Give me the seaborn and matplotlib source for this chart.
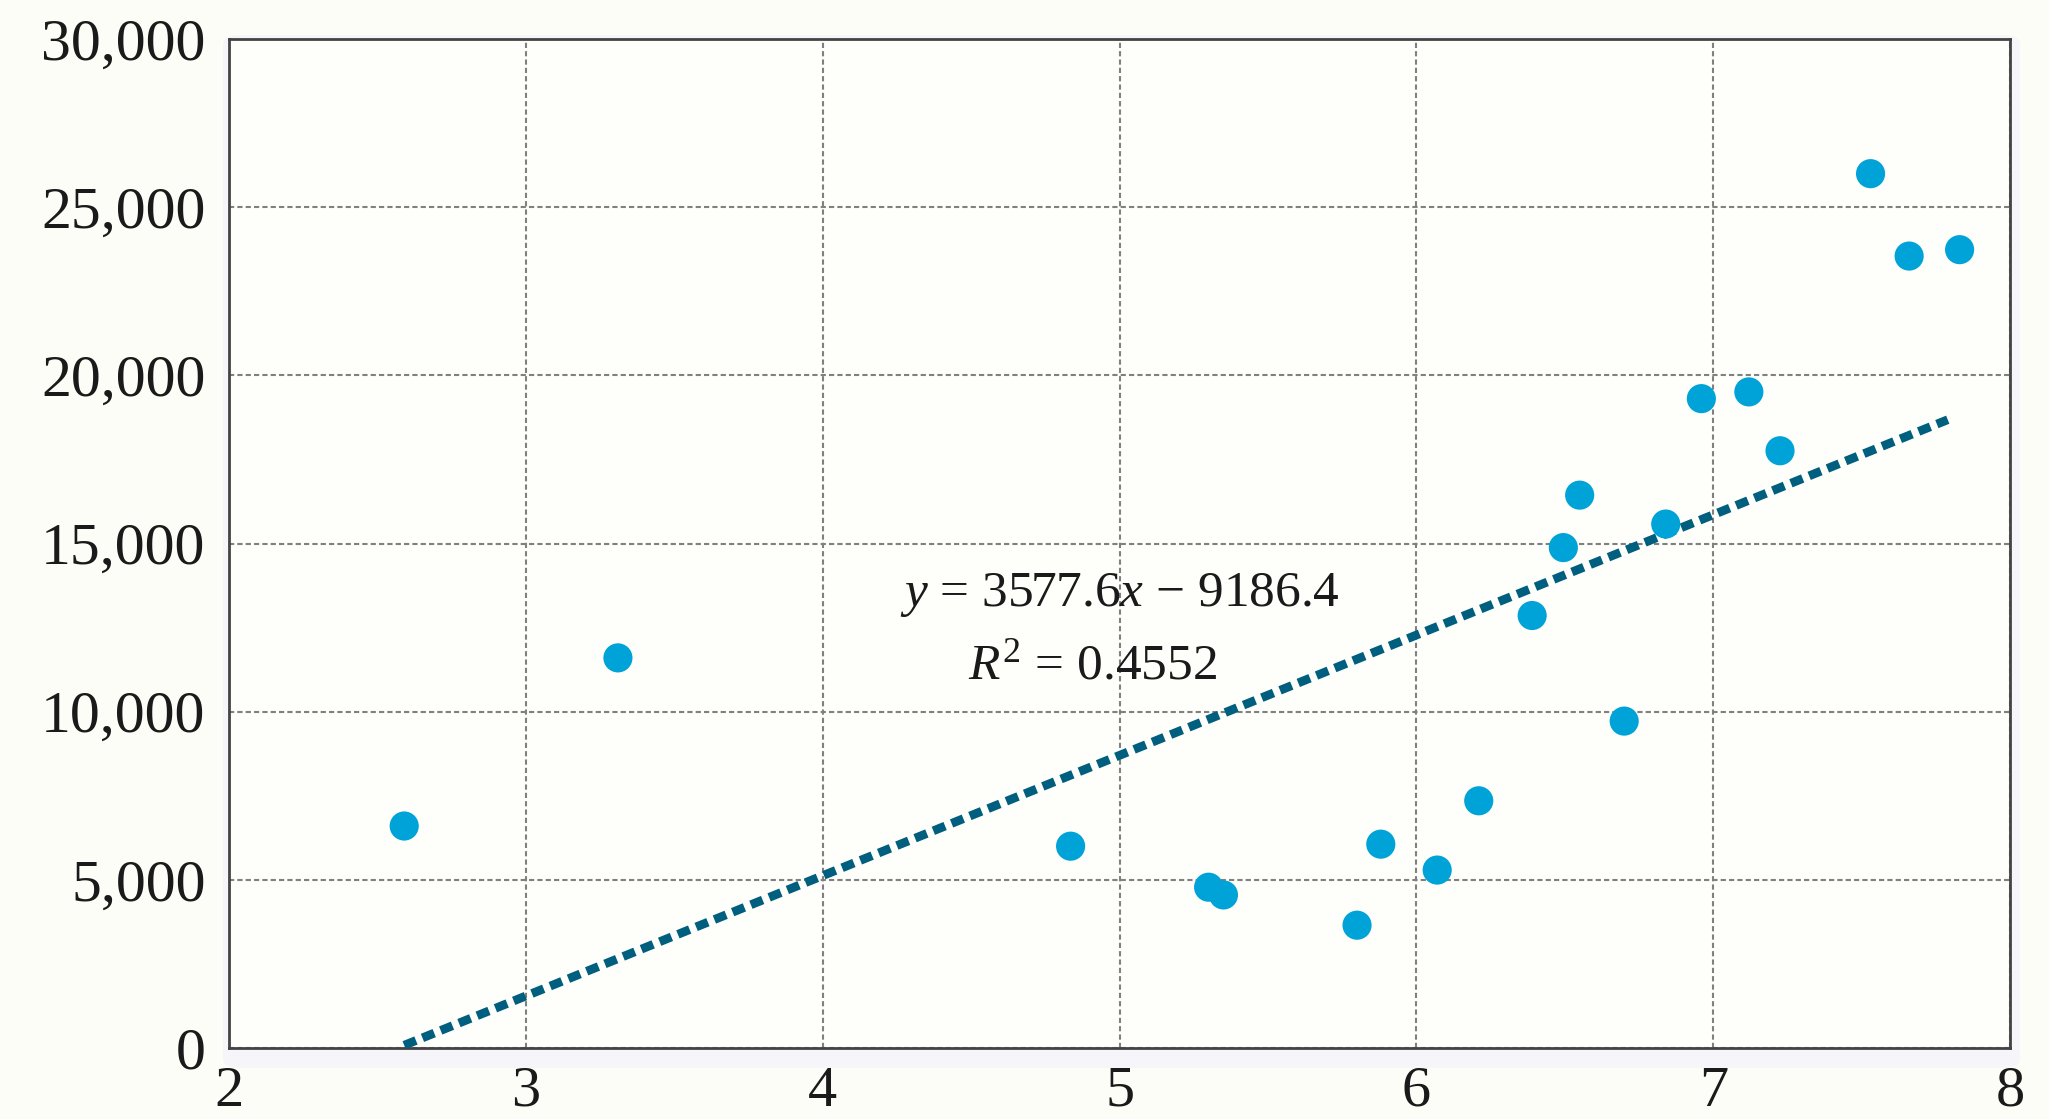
import numpy as np
import pandas as pd
import matplotlib
matplotlib.use("Agg")
import matplotlib.pyplot as plt
from matplotlib.patches import FancyBboxPatch
import seaborn as sns

# Data
x_vals = [2.59, 3.31, 4.835, 5.30, 5.35, 5.80, 5.88, 6.07, 6.21, 6.39,
          6.495, 6.55, 6.70, 6.84, 6.96, 7.12, 7.225, 7.53, 7.66, 7.83]
y_vals = [6600, 11600, 6000, 4780, 4550, 3650, 6060, 5290, 7350, 12860,
          14880, 16440, 9720, 15580, 19310, 19510, 17760, 26000, 23550, 23740]
slope = 3577.6
intercept = -9186.4
r_squared = 0.4552
x_ticks = [2, 3, 4, 5, 6, 7, 8]
y_ticks = [0, 5000, 10000, 15000, 20000, 25000, 30000]
eq_label = "$y$ = 3577.6$x$ − 9186.4"
r2_label = "$R^2$ = 0.4552"

df = pd.DataFrame({"x": x_vals, "y": y_vals})

sns.set_theme(style="white")
plt.rcParams["font.family"] = ["Liberation Serif", "DejaVu Serif"]
plt.rcParams["mathtext.fontset"] = "custom"
plt.rcParams["mathtext.rm"] = "Liberation Serif"
plt.rcParams["mathtext.it"] = "Liberation Serif:italic"

bg = "#FDFDF8"
fig = plt.figure(figsize=(20.49, 11.19), dpi=100, facecolor=bg)
ax_rect = [0.1118, 0.0635, 0.981 - 0.1118, 0.965 - 0.0635]

# faint glow/shadow around the plot area
W, H = 2049, 1119
glow = FancyBboxPatch((ax_rect[0] - 6 / W, ax_rect[1] - 20 / H),
                      ax_rect[2] + 16 / W, ax_rect[3] + 24 / H,
                      boxstyle="round,pad=0,rounding_size=0.008",
                      transform=fig.transFigure, facecolor="#F6F5F9",
                      edgecolor="none", zorder=-5)
fig.patches.append(glow)

ax = fig.add_axes(ax_rect)
ax.set_zorder(2)
ax.set_facecolor("#FEFEFB")

# trendline (from fitted coefficients), clipped at y >= 0
x0 = max(min(x_vals), -intercept / slope)
x1 = 7.79
tx = np.array([x0, x1])
ty = slope * tx + intercept
ax.plot(tx, ty, color="#005E7E", lw=6.3, linestyle=(0, (1.45, 0.8)),
        solid_capstyle="butt", dash_capstyle="butt", zorder=3)

sns.scatterplot(data=df, x="x", y="y", ax=ax, color="#00A3D7", s=440,
                edgecolor="none", linewidth=0, zorder=4)

ax.set_xlim(2, 8)
ax.set_ylim(0, 30000)
ax.set_xticks(x_ticks)
ax.set_yticks(y_ticks)
ax.set_xticklabels([str(t) for t in x_ticks])
ax.set_yticklabels([f"{t:,}" for t in y_ticks])
ax.tick_params(axis="both", length=0, colors="#1a1a1a")
ax.tick_params(axis="y", pad=17, labelsize=43)
ax.tick_params(axis="x", pad=13, labelsize=42)
ax.set_xlabel("")
ax.set_ylabel("")

ax.grid(True, color="#808080", linestyle=(0, (2.5, 1.5)), lw=1.5)
ax.set_axisbelow(True)
for s in ax.spines.values():
    s.set_color("#444444")
    s.set_linewidth(2)
    s.set_visible(True)

ax.text(5.0, 13480, eq_label, fontsize=37, ha="center", va="center", color="#1a1a1a")
ax.text(4.91, 11350, r2_label, fontsize=37, ha="center", va="center", color="#1a1a1a")

fig.savefig("out.png", dpi=100, facecolor=bg)
